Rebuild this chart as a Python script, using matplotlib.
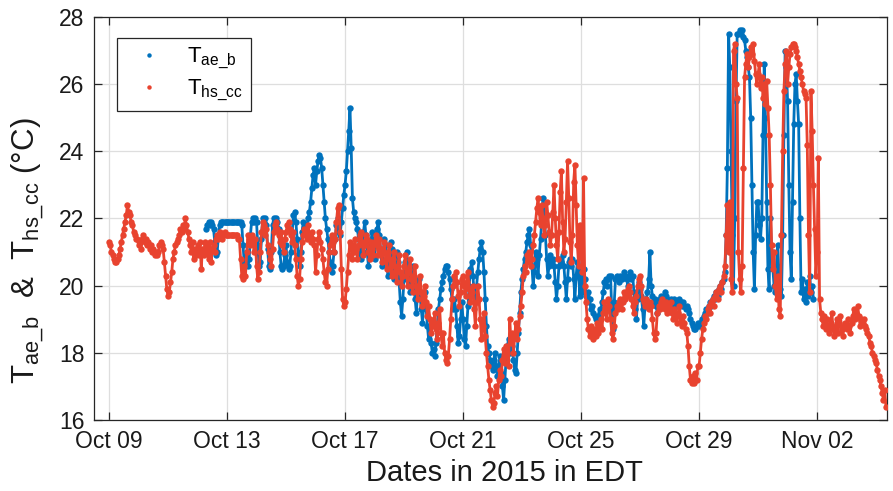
import matplotlib
matplotlib.use("Agg")
import matplotlib.pyplot as plt
import matplotlib.dates as mdates
from matplotlib.lines import Line2D
import pandas as pd

# Hourly temperatures (°C), one row per day
hs_cc_days = [
    [21.3,21.2,21.0,20.9,20.8,20.7,20.7,20.8,20.9,21.1,21.3,21.5,21.7,21.9,22.1,22.4,22.2,22.1,21.9,21.8,21.6,21.5,21.4,21.4],  # Oct 09
    [21.2,21.3,21.1,21.4,21.5,21.3,21.4,21.2,21.3,21.1,21.2,21.0,21.1,20.9,21.0,20.9,21.0,21.2,21.3,21.2,21.1,20.7,20.3,19.9],  # Oct 10
    [19.7,19.8,20.1,20.4,20.8,21.0,21.2,21.3,21.4,21.5,21.7,21.6,21.8,21.7,22.0,21.8,21.6,21.4,21.2,21.0,21.3,20.8,21.1,20.9],  # Oct 11
    [21.2,20.9,21.3,20.5,21.1,20.9,21.3,21.0,21.2,20.8,21.3,20.7,21.1,21.2,21.0,21.4,21.5,21.4,21.6,21.5,21.4,21.5,21.6,21.5],  # Oct 12
    [21.5,21.5,21.5,21.5,21.5,21.5,21.5,21.5,21.5,21.4,21.4,20.8,20.3,20.2,20.6,20.3,21.0,21.5,21.4,21.2,21.5,21.3,21.0,21.4],  # Oct 13
    [20.6,20.2,20.4,21.0,21.6,21.9,21.8,21.5,21.7,21.2,21.0,20.8,20.6,21.1,21.6,21.8,21.9,21.7,21.5,21.3,21.6,21.2,21.0,21.4],  # Oct 14
    [21.6,21.8,21.9,21.7,21.5,21.3,21.6,21.2,20.8,20.3,20.0,20.2,20.8,21.3,21.5,21.7,21.6,21.4,21.8,21.5,21.3,21.6,21.4,21.2],  # Oct 15
    [20.4,20.9,21.4,21.6,21.3,21.1,20.8,20.4,20.1,20.0,20.5,21.0,21.2,21.5,21.3,21.0,21.4,21.9,22.3,22.4,21.6,20.5,19.6,19.4],  # Oct 16
    [19.5,19.9,20.4,20.9,21.3,21.2,20.8,21.0,21.4,21.1,20.8,21.2,21.5,21.6,21.3,20.9,21.2,21.5,21.4,21.0,20.8,21.3,21.1,20.9],  # Oct 17
    [21.3,21.5,21.2,20.9,21.4,21.1,20.7,21.0,21.3,20.8,20.5,21.0,21.2,20.6,20.3,20.8,21.0,20.4,20.1,20.6,20.9,20.4,20.0,20.3],  # Oct 18
    [20.6,20.9,20.4,20.0,20.5,20.8,20.2,19.8,20.3,20.6,20.0,19.6,19.9,20.3,19.8,19.4,19.7,20.0,19.5,19.1,19.4,19.0,18.6,18.9],  # Oct 19
    [18.8,19.2,18.7,18.4,18.9,19.3,18.6,18.2,18.6,18.0,17.8,17.7,17.9,18.4,19.0,19.6,20.0,20.3,20.4,20.1,19.7,19.4,19.8,20.2],  # Oct 20
    [20.3,20.0,19.7,20.1,20.4,19.9,19.5,19.8,20.0,19.3,18.8,19.5,20.0,19.6,19.0,18.4,18.8,19.2,18.5,18.0,17.6,17.2,16.9,16.6],  # Oct 21
    [16.4,16.5,16.8,17.0,16.7,17.2,17.5,17.3,17.8,18.1,17.7,18.2,18.0,17.6,19.0,18.3,18.6,18.0,18.5,18.9,18.4,18.7,19.1,19.4],  # Oct 22
    [19.8,20.3,20.6,20.4,20.9,20.7,21.0,20.6,20.8,21.2,21.5,21.9,22.3,22.6,22.2,21.8,22.4,22.0,21.5,21.8,22.5,22.1,21.6,21.2],  # Oct 23
    [21.5,22.2,23.0,22.0,21.2,20.8,21.6,22.8,23.4,21.9,21.0,21.4,22.5,23.7,22.6,21.3,20.7,21.5,23.1,23.6,22.4,21.2,20.6,21.8],  # Oct 24
    [21.0,20.4,23.2,20.0,19.5,19.0,18.7,18.5,18.8,18.6,18.4,18.7,18.5,18.9,18.6,18.8,19.0,18.7,19.2,19.5,19.3,19.0,19.6,19.4],  # Oct 25
    [19.0,18.6,18.4,18.8,19.2,19.4,19.3,19.5,19.6,19.3,19.5,19.8,19.6,19.7,19.9,20.0,19.8,19.6,19.4,19.2,19.5,19.7,20.0,20.2],  # Oct 26
    [20.3,20.0,19.6,19.5,19.4,19.6,19.5,19.3,19.5,19.4,19.0,18.6,18.4,18.6,19.2,19.4,19.3,19.5,19.6,19.4,19.3,19.5,19.2,19.4],  # Oct 27
    [19.3,19.5,19.2,19.0,19.3,19.1,18.9,19.2,19.4,19.0,18.8,19.1,18.9,18.7,18.6,18.2,17.6,17.2,17.1,17.3,17.1,17.4,17.2,17.6],  # Oct 28
    [17.6,18.0,18.4,18.7,18.9,19.1,19.0,19.3,19.4,19.2,19.5,19.6,19.4,19.7,19.8,19.6,19.9,20.0,19.8,20.1,20.3,20.6,21.5,22.4],  # Oct 29
    [21.0,22.5,20.2,19.8,27.0,27.2,26.0,25.6,21.0,20.2,19.8,20.6,23.5,26.2,26.6,26.9,26.5,26.8,27.1,26.9,27.2,26.7,26.3,26.0],  # Oct 30
    [26.3,26.6,25.9,26.2,25.6,26.0,25.4,26.1,25.3,24.5,23.0,21.2,20.5,21.0,20.0,19.6,20.3,19.3,19.1,21.5,24.0,25.8,26.6,27.0],  # Oct 31
    [26.0,26.5,26.9,27.1,27.2,27.2,27.1,27.0,26.8,26.6,26.4,26.2,26.0,25.8,25.7,25.6,24.2,21.5,19.8,25.8,24.6,23.0,21.7,20.3],  # Nov 01
    [21.0,23.8,19.6,19.2,19.0,18.8,19.1,18.7,19.0,18.8,18.6,18.9,19.2,18.7,18.5,18.8,19.0,18.6,18.9,19.1,18.7,18.5,18.8,18.9],  # Nov 02
    [18.7,19.0,18.8,18.6,18.9,19.1,19.3,19.0,19.2,19.4,19.1,18.8,19.0,18.9,19.0,18.8,18.7,18.6,18.5,18.3,18.2,18.0,17.9,17.8],  # Nov 03
    [17.7,17.5,17.3,17.2,17.0,16.8,16.6,16.9,16.4],                                                                          # Nov 04
]
hs_cc_start = "2015-10-09 00:00"

ae_b_days = [
    [21.7,21.8,21.9,21.8,21.9,21.8,21.7,21.3,20.9,21.0,21.5,21.8,21.9,21.9,21.9,21.9,21.9],                                  # Oct 12 from 07:00
    [21.9,21.9,21.9,21.9,21.9,21.9,21.9,21.9,21.9,21.9,21.9,21.9,21.8,21.2,20.7,20.6,21.0,20.6,20.8,21.5,21.9,22.0,21.9,22.0],  # Oct 13
    [21.9,21.2,20.6,20.7,21.4,22.0,21.9,22.0,21.8,21.1,20.6,20.5,21.0,21.8,22.0,21.9,22.0,21.9,21.7,21.0,20.6,20.5,20.6,20.9],  # Oct 14
    [21.2,20.7,20.5,20.6,21.0,21.6,22.1,22.2,21.9,21.4,20.9,20.6,21.0,21.6,21.9,21.7,21.5,21.8,22.0,22.2,22.5,22.9,23.3,23.5],  # Oct 15
    [23.0,23.4,23.7,23.9,23.8,23.5,23.0,22.5,22.0,21.7,21.4,21.0,20.7,20.4,20.6,21.0,21.4,21.8,22.0,21.6,21.5,21.9,22.3,22.7],  # Oct 16
    [23.0,23.4,24.0,24.6,25.3,24.1,22.6,22.2,22.0,21.9,21.7,21.4,21.0,20.8,21.2,21.6,21.9,21.5,21.0,20.6,20.9,21.3,21.6,21.2],  # Oct 17
    [20.8,21.3,21.7,21.9,21.5,21.0,20.6,21.0,21.4,21.2,20.7,20.3,20.9,21.3,21.1,20.6,20.2,20.6,21.0,20.7,20.1,19.5,19.1,19.6],  # Oct 18
    [20.2,20.7,21.0,20.6,20.2,19.8,20.3,20.6,20.1,19.6,19.2,19.8,20.2,19.7,19.3,18.9,19.4,19.8,19.3,18.8,18.4,18.8,18.3,18.0],  # Oct 19
    [18.1,17.9,18.3,18.8,19.3,19.6,19.9,20.1,20.3,20.5,20.6,20.6,20.4,20.2,19.9,19.6,19.3,19.6,19.3,18.8,18.3,18.5,19.0,19.5],  # Oct 20
    [19.0,18.4,18.2,18.8,19.4,20.0,20.5,20.7,20.3,19.8,19.5,20.0,20.4,20.8,21.1,21.3,21.0,20.4,19.6,18.8,18.2,18.0,17.8,17.6],  # Oct 21
    [17.5,17.8,18.0,17.6,17.3,17.6,17.9,17.4,17.0,16.6,17.2,17.8,18.2,18.4,18.0,18.5,18.2,17.8,17.5,17.4,18.0,18.6,19.2,19.8],  # Oct 22
    [20.2,20.5,20.8,21.0,21.3,21.5,21.7,21.2,20.6,20.0,20.4,21.0,20.8,20.3,20.9,21.4,21.9,22.6,22.2,21.5,20.8,20.3,20.6,20.9],  # Oct 23
    [20.7,20.8,20.6,20.1,19.6,20.0,20.6,20.8,20.7,20.9,20.6,20.1,19.6,20.2,20.7,20.8,20.6,20.8,20.2,19.6,20.3,20.7,20.4,19.7],  # Oct 24
    [20.6,19.8,20.5,20.2,19.7,19.5,19.8,19.6,19.3,19.4,19.2,19.1,19.0,19.0,19.1,19.3,19.2,19.5,19.8,20.1,20.2,20.0,20.2,20.3],  # Oct 25
    [20.3,19.2,18.7,19.5,20.2,20.3,20.2,20.1,20.3,20.2,20.3,20.4,20.3,20.2,20.0,20.3,20.4,20.2,20.3,19.8,19.3,19.0,19.6,20.1],  # Oct 26
    [19.9,19.7,19.3,18.8,19.4,19.6,19.8,20.2,21.0,20.0,19.7,19.5,19.6,19.4,19.2,19.5,19.6,19.7,19.5,19.6,19.8,19.7,19.6,19.5],  # Oct 27
    [19.5,19.6,19.5,19.4,19.6,19.5,19.4,19.5,19.6,19.5,19.4,19.5,19.4,19.3,19.4,19.3,19.2,19.0,18.9,18.8,18.7,18.7,18.8,18.9],  # Oct 28
    [18.8,18.9,19.0,18.9,19.1,19.2,19.3,19.2,19.4,19.5,19.4,19.6,19.7,19.6,19.8,19.7,19.9,20.0,19.9,20.1,20.2,20.4,21.5,23.5],  # Oct 29
    [27.5,26.5,24.0,21.5,20.0,22.0,25.5,27.5,27.5,27.6,27.5,27.6,27.4,27.3,27.0,26.8,26.5,26.2,25.0,23.0,21.0,19.9,21.5,22.5],  # Oct 30
    [22.5,21.8,21.4,22.0,24.5,26.6,25.0,22.5,20.5,19.9,22.0,21.0,20.5,20.0,19.8,20.6,21.2,20.3,19.9,19.7,21.5,24.5,27.0,26.5],  # Oct 31
    [25.5,23.0,21.0,20.2,22.5,24.8,26.0,26.3,25.5,24.8,22.0,19.8,20.2,19.6,19.9,19.5,20.1,19.7,20.3,19.8,20.0,19.6],            # Nov 01
]
ae_b_start = "2015-10-12 07:00"

date_ticks = ["2015-10-09", "2015-10-13", "2015-10-17", "2015-10-21",
              "2015-10-25", "2015-10-29", "2015-11-02"]
temp_ticks = [16, 18, 20, 22, 24, 26, 28]

BLUE = "#0072BD"
RED = "#E8432F"

plt.rcParams["font.family"] = ["Liberation Sans", "DejaVu Sans"]
plt.rcParams["mathtext.fontset"] = "custom"
plt.rcParams["mathtext.rm"] = "Liberation Sans"
plt.rcParams["mathtext.it"] = "Liberation Sans"

hs_cc = [v for day in hs_cc_days for v in day]
ae_b = [v for day in ae_b_days for v in day]
t_hs = pd.date_range(hs_cc_start, periods=len(hs_cc), freq="h")
t_ae = pd.date_range(ae_b_start, periods=len(ae_b), freq="h")

fig = plt.figure(figsize=(8.93, 4.91), dpi=100)
ax = fig.add_axes([0.1053, 0.1446, 0.888, 0.8208])

# densely sampled logger records: points joined by a trace of the same colour
ms = 4.6
ax.plot(t_ae, ae_b, "-o", color=BLUE, ms=ms, mew=0, lw=2.0, zorder=3)
ax.plot(t_hs, hs_cc, "-o", color=RED, ms=ms, mew=0, lw=2.0, zorder=4)

ax.set_xlim(pd.Timestamp("2015-10-08 11:48"), pd.Timestamp("2015-11-04 08:53"))
ax.set_ylim(16, 28)
ax.set_xticks(pd.to_datetime(date_ticks))
ax.xaxis.set_major_formatter(mdates.DateFormatter("%b %d"))
ax.set_yticks(temp_ticks)

ax.grid(True, color="#DEDEDE", lw=0.9, zorder=0)
ax.set_axisbelow(True)
for s in ax.spines.values():
    s.set_color("#262626")
    s.set_linewidth(0.9)
ax.tick_params(direction="in", top=True, right=True, length=6, width=0.9,
               color="#262626", labelsize=16.5, labelcolor="#1a1a1a", pad=7)

ax.set_xlabel("Dates in 2015 in EDT", fontsize=21, color="#1a1a1a")
ax.xaxis.set_label_coords(0.518, -0.097)
ax.set_ylabel(r"$\mathrm{T_{ae\_b}}$  &  $\mathrm{T_{hs\_cc}}$ (°C)",
              fontsize=22.5, color="#1a1a1a")
ax.yaxis.set_label_coords(-0.06, 0.42)

handles = [Line2D([], [], ls="none", marker="o", ms=3.2, mew=0, color=BLUE),
           Line2D([], [], ls="none", marker="o", ms=3.2, mew=0, color=RED)]
leg = ax.legend(handles, [r"$\mathrm{T_{ae\_b}}$", r"$\mathrm{T_{hs\_cc}}$"],
                loc="upper left", bbox_to_anchor=(0.029, 0.948), borderaxespad=0,
                fontsize=16, fancybox=False, framealpha=1, edgecolor="#262626",
                handlelength=2.2, handletextpad=0.6, borderpad=0.35,
                labelspacing=0.3)
leg.get_frame().set_linewidth(0.9)

fig.savefig("out.png", dpi=100)
